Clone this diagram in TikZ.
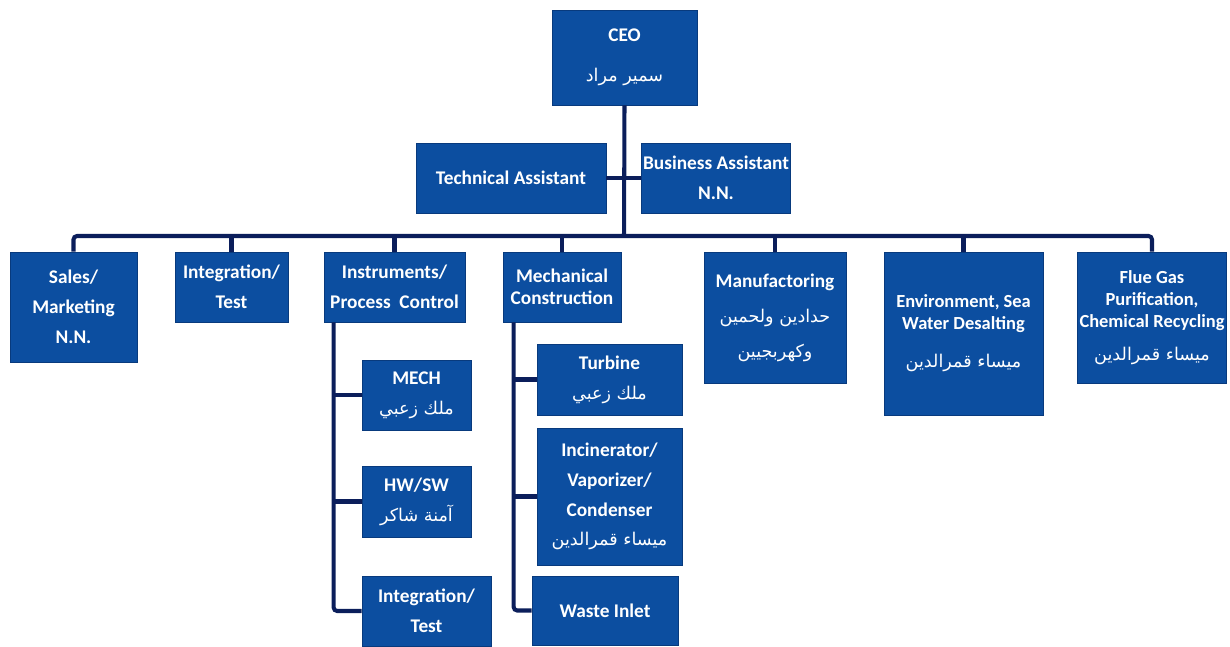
\documentclass[tikz,border=0pt]{standalone}
\usepackage{fontspec}
\setmainfont{Carlito}
\newfontfamily\arabicfont[Script=Arabic]{DejaVu Sans}
\TeXXeTstate=1
\usepackage{tikz}
\usetikzlibrary{positioning,calc}
\definecolor{orgblue}{RGB}{12,78,160}
\definecolor{orgedge}{RGB}{8,58,125}
\definecolor{linknavy}{RGB}{11,30,91}
\newcommand{\arname}[1]{{\arabicfont\mdseries\fontsize{10}{14}\selectfont\beginR #1\endR}}

\begin{document}
\begin{tikzpicture}[
        x=0.02cm, y=-0.02cm,
        box/.style 2 args={rectangle, draw=orgedge, fill=orgblue, text=white,
            minimum width=#1,
            minimum height=#2,
            inner sep=1pt,
            align=center, font=\bfseries\fontsize{11}{17}\selectfont},
        link/.style={draw=linknavy, line width=2.3pt, rounded corners=2pt}
    ]
        \useasboundingbox (0,0) rectangle (1230,646);
        % top
        \node[box={2.9cm}{1.9cm}] (ceo) at (624.5,57.5) {CEO\\[6pt]\arname{سمير مراد}};
        \node[box={3.8cm}{1.4cm}] (tech) at (511,178) {Technical Assistant};
        \node[box={2.92cm}{1.4cm}] (biz) at (716,178) {Business Assistant\\N.N.};
        % departments
        \node[box={2.54cm}{2.2cm}] (sales) at (73.5,307) {Sales/\\Marketing\\N.N.};
        \node[box={2.26cm}{1.4cm}] (integ) at (231.5,287) {Integration/\\Test};
        \node[box={2.82cm}{1.4cm}] (instr) at (394.5,287) {Instruments/\\Process\ \ Control};
        \node[box={2.36cm}{1.4cm}, font=\bfseries\fontsize{11}{12.5}\selectfont] (mech) at (562,287) {Mechanical\\Construction};
        \node[box={2.84cm}{2.62cm}] (manuf) at (775,317.5) {Manufactoring\\[3pt]\arname{حدادين ولحمين}\\[3pt]\arname{وكهربجيين}};
        \node[box={3.18cm}{3.26cm}, font=\bfseries\fontsize{10.5}{12.5}\selectfont] (env) at (963.5,333.5) {Environment, Sea\\Water Desalting\\[9pt]\arname{ميساء قمرالدين}};
        \node[box={2.92cm}{2.62cm}, font=\bfseries\fontsize{10.5}{12.5}\selectfont] (flue) at (1152,317.5) {Flue Gas\\Purification,\\Chemical Recycling\\[6pt]\arname{ميساء قمرالدين}};
        % sub units
        \node[box={2.18cm}{1.4cm}] (imech) at (416.5,395) {MECH\\\arname{ملك زعبي}};
        \node[box={2.18cm}{1.42cm}] (ihwsw) at (416.5,501.5) {HW/SW\\\arname{آمنة شاكر}};
        \node[box={2.58cm}{1.4cm}] (itest) at (426.5,611) {Integration/\\Test};
        \node[box={2.9cm}{1.42cm}] (turb) at (609.5,379.5) {Turbine\\\arname{ملك زعبي}};
        \node[box={2.9cm}{2.74cm}] (incin) at (609.5,496.5) {Incinerator/\\Vaporizer/\\Condenser\\\arname{ميساء قمرالدين}};
        \node[box={2.92cm}{1.38cm}] (waste) at (605,610.5) {Waste Inlet};
        % connectors
        \coordinate (bus) at (624,236);
        \draw[link] (ceo.south) -- (bus);
        \draw[link] (tech.east) -- (biz.west);
        \draw[link] (sales.north) -- (sales.north |- bus) -- (flue.north |- bus) -- (flue.north);
        \foreach \d in {integ,instr,mech,manuf,env}
            \draw[link] (\d.north) -- (\d.north |- bus);
        \coordinate (ispine) at ([xshift=0.2cm]instr.south west);
        \draw[link] (ispine) |- (itest.west);
        \foreach \s in {imech,ihwsw}
            \draw[link] (ispine |- \s.west) -- (\s.west);
        \coordinate (mspine) at ([xshift=0.22cm]mech.south west);
        \draw[link] (mspine) |- (waste.west);
        \foreach \s in {turb,incin}
            \draw[link] (mspine |- \s.west) -- (\s.west);
    \end{tikzpicture}
\end{document}
